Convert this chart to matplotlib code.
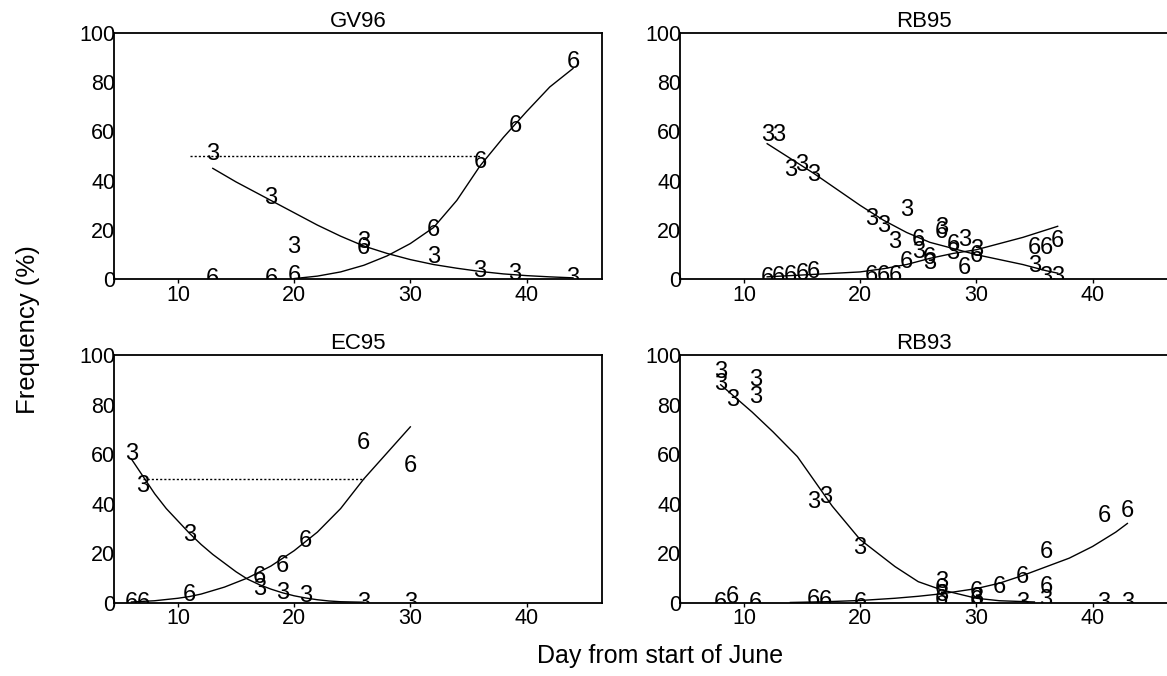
import matplotlib
matplotlib.use("Agg")
import matplotlib.pyplot as plt

plt.rcParams['font.family'] = ['Liberation Sans', 'DejaVu Sans']

# ---- GV96 ----
gv_days3 = [13, 18, 20, 26, 32, 36, 39, 44]
gv_vals3 = [51, 33, 13, 15, 9, 3.5, 2.3, 0.5]
gv_days6 = [13, 18, 20, 26, 32, 36, 39, 44]
gv_vals6 = [0, 0, 1.5, 12.5, 20, 47.5, 62, 88]
gv_fit3_x = [13, 15, 18, 20, 22, 24, 26, 28, 30, 32, 34, 36, 38, 40, 42, 44]
gv_fit3_y = [45, 39.5, 32, 27, 22, 17.5, 13.5, 10.5, 8, 6, 4.5, 3.2, 2.2, 1.5, 1, 0.6]
gv_fit6_x = [20, 22, 24, 26, 28, 30, 32, 34, 36, 38, 40, 42, 44]
gv_fit6_y = [0.3, 1.3, 3, 5.7, 9.5, 14.5, 21, 32, 46, 57.5, 68, 78, 85.5]
gv_half = [11, 36]

# ---- RB95 ----
rb95_days3 = [12, 13, 14, 15, 16, 21, 22, 23, 24, 25, 26, 27, 28, 29, 30, 35, 36, 37]
rb95_vals3 = [58.5, 58.5, 44.5, 46.5, 42.5, 24.5, 21.5, 15, 28, 11, 6.5, 21, 10.5, 16, 12, 5.5, 1, 1]
rb95_days6 = [12, 13, 14, 15, 16, 21, 22, 23, 24, 25, 26, 27, 28, 29, 30, 35, 36, 37]
rb95_vals6 = [0.5, 1, 1.5, 2, 3, 1.5, 1.5, 1.5, 7, 16, 8.5, 19, 14, 4.5, 9.5, 12.5, 12.5, 15.5]
rb95_fit3_x = [12, 14, 16, 18, 20, 22, 24, 26, 28, 30, 32, 34, 36, 37]
rb95_fit3_y = [55, 49, 43, 36.5, 30, 24, 19, 15, 12.5, 10, 8, 6, 3.5, 2.5]
rb95_fit6_x = [12, 14, 16, 18, 20, 22, 24, 26, 28, 30, 32, 34, 36, 37]
rb95_fit6_y = [1, 1.5, 2, 2.5, 3, 4.3, 6, 8.5, 10.5, 12, 14.5, 17, 20, 21.5]

# ---- EC95 ----
ec_days3 = [6, 7, 11, 17, 19, 21, 26, 30]
ec_vals3 = [60, 47, 27.5, 5.5, 4, 2.6, 0, 0]
ec_days6 = [6, 7, 11, 17, 19, 21, 26, 30]
ec_vals6 = [0, 0, 3, 10.5, 14.7, 25, 64.5, 55]
ec_fit3_x = [6, 7, 8, 9, 10, 11, 12, 13, 14, 15, 16, 17, 18, 19, 20, 21, 22, 23, 24, 26]
ec_fit3_y = [58, 51, 44, 38, 33, 28, 23.5, 19.5, 16, 12.5, 9.5, 7.3, 5.5, 4, 2.8, 1.9, 1.2, 0.7, 0.4, 0.2]
ec_fit6_x = [6, 8, 10, 11, 12, 14, 16, 18, 20, 22, 24, 26, 28, 30]
ec_fit6_y = [0.3, 0.8, 1.8, 2.5, 3.5, 6.3, 10, 14.8, 21, 28.5, 38, 50, 60.5, 71]
ec_half = [7, 26]

# ---- RB93 ----
rb93_days3 = [8, 8, 9, 11, 11, 16, 17, 20, 27, 27, 30, 34, 36, 41, 43]
rb93_vals3 = [93, 88.5, 82, 90, 83, 40.5, 42.5, 22, 8.5, 3, 2, 0, 1, 0, 0]
rb93_days6 = [8, 9, 11, 16, 17, 20, 27, 27, 30, 30, 32, 34, 36, 36, 41, 43]
rb93_vals6 = [0, 2.5, 0, 1, 0.5, 0, 5.5, 1, 4.5, 0.5, 6.5, 10.5, 20.5, 6.5, 35, 37]
rb93_fit3_x = [8, 10.7, 12.5, 14.6, 16.4, 17.6, 20, 23, 25, 27, 30, 32, 35]
rb93_fit3_y = [88, 77, 69, 59, 47, 39, 25.5, 14.6, 8.5, 5.2, 1.8, 0.8, 0.3]
rb93_fit6_x = [14, 17, 20, 23, 25, 27, 30, 32, 34, 36, 38, 40, 42, 43]
rb93_fit6_y = [0.1, 0.4, 0.9, 1.8, 2.6, 3.6, 5.7, 7.9, 11, 14.5, 18, 22.7, 28.5, 32]

panels = [
    ('GV96', gv_days3, gv_vals3, gv_days6, gv_vals6,
     gv_fit3_x, gv_fit3_y, gv_fit6_x, gv_fit6_y, gv_half),
    ('RB95', rb95_days3, rb95_vals3, rb95_days6, rb95_vals6,
     rb95_fit3_x, rb95_fit3_y, rb95_fit6_x, rb95_fit6_y, None),
    ('EC95', ec_days3, ec_vals3, ec_days6, ec_vals6,
     ec_fit3_x, ec_fit3_y, ec_fit6_x, ec_fit6_y, ec_half),
    ('RB93', rb93_days3, rb93_vals3, rb93_days6, rb93_vals6,
     rb93_fit3_x, rb93_fit3_y, rb93_fit6_x, rb93_fit6_y, None),
]

# axes boxes in figure fractions (left, bottom, width, height)
boxes = [
    [0.0977, 0.5868, 0.4182, 0.3648],
    [0.5827, 0.5868, 0.4182, 0.3648],
    [0.0977, 0.1084, 0.4182, 0.3664],
    [0.5827, 0.1084, 0.4182, 0.3664],
]

fig = plt.figure(figsize=(11.67, 6.76), dpi=100)

for box, p in zip(boxes, panels):
    name, d3, v3, d6, v6, f3x, f3y, f6x, f6y, half = p
    ax = fig.add_axes(box)
    ax.set_xlim(4.5, 46.5)
    ax.set_ylim(0, 100)
    for s in ax.spines.values():
        s.set_linewidth(1.3)
    ax.set_xticks([10, 20, 30, 40])
    ax.set_yticks([0, 20, 40, 60, 80, 100])
    ax.tick_params(axis='y', length=0, pad=-1, labelsize=15.5)
    ax.tick_params(axis='x', direction='out', length=3, width=1, pad=1, labelsize=15.5)
    ax.set_title(name, fontsize=16, pad=4)

    # fitted curves
    ax.plot(f3x, f3y, color='black', linewidth=1.0)
    ax.plot(f6x, f6y, color='black', linewidth=1.0)
    if half is not None:
        ax.plot(half, [50, 50], color='black', linewidth=1.0, linestyle=(0, (1.5, 1.5)))

    # data points drawn as digits
    for x, y in zip(d3, v3):
        ax.text(x, y, '3', fontsize=17, ha='center', va='center', clip_on=True)
    for x, y in zip(d6, v6):
        ax.text(x, y, '6', fontsize=17, ha='center', va='center', clip_on=True)

fig.text(0.024, 0.512, 'Frequency (%)', rotation=90, ha='center', va='center', fontsize=18.5)
fig.text(0.566, 0.03, 'Day from start of June', ha='center', va='center', fontsize=18)

fig.savefig('out.png', dpi=100)
